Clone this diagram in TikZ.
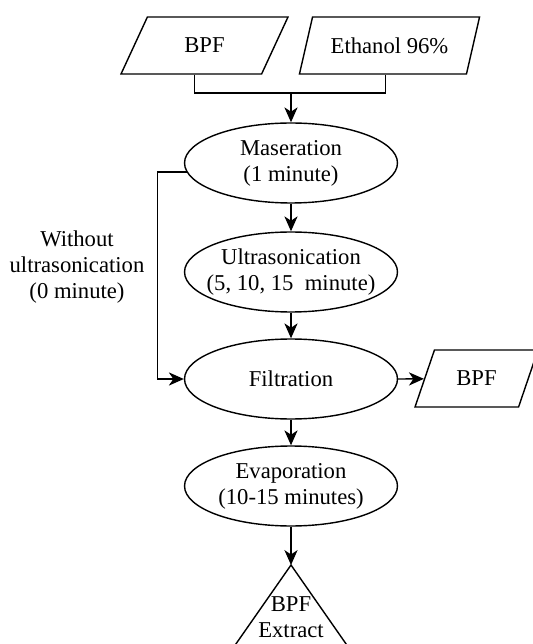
\documentclass[tikz,border=0pt]{standalone}
\usepackage{fontspec}
\setmainfont{Liberation Serif}
\usetikzlibrary{shapes.geometric,arrows.meta,calc}

\begin{document}
\begin{tikzpicture}[
    x=0.02cm, y=-0.02cm,
    every node/.style={font=\fontsize{12.9}{14.8}\selectfont},
    process/.style={ellipse, draw=black, line width=0.8pt, fill=white,
        minimum width=4.26cm, minimum height=1.6cm, inner xsep=-0.5cm,
        inner ysep=0pt, align=center},
    data/.style={trapezium, trapezium left angle=58, trapezium right angle=122,
        trapezium stretches=true, draw=black, line width=0.8pt, fill=white,
        minimum height=1.14cm, inner sep=0pt},
    flow/.style={line width=0.8pt, -{Stealth[length=8.5pt, width=7.5pt, inset=2.5pt]}},
    link/.style={line width=0.8pt}
]
    \useasboundingbox (0,0) rectangle (532,644);
    \node[data, minimum width=3.34cm] (bpfin) at (204.5,45.5) {BPF};
    \node[data, minimum width=3.62cm] (ethanol) at (389.5,45.5) {Ethanol 96\%};
    \coordinate (join) at (291,93);
    \node[process] (maser) at (291,163) {Maseration\\(1 minute)};
    \node[process] (ultra) at (291,272) {Ultrasonication\\(5, 10, 15\ \ minute)};
    \node[process] (filt) at (291,379) {Filtration};
    \node[data, minimum width=2.46cm] (bpfout) at (476.5,378.5) {BPF};
    \node[process] (evap) at (291,486) {Evaporation\\(10-15 minutes)};
    \node[align=center] (wolabel) at (77,267) {Without\\ultrasonication\\(0 minute)};
    \coordinate (apex) at (291,565);
    \node[align=center, inner sep=0pt] (extract) at (291,617) {BPF\\Extract};
    \draw[link] (apex) -- ++(-60,86) -- ++(120,0) -- cycle;
    \draw[link] ($(bpfin.south)+(-10,0)$) |- (join) -| ($(ethanol.south)+(-4,0)$);
    \draw[flow] (join) -- (maser);
    \draw[flow] (maser) -- (ultra);
    \draw[flow] (ultra) -- (filt);
    \draw[flow] (maser.185) -- ++(-29,0) |- (filt.west);
    \draw[flow] (filt.east) -- (bpfout);
    \draw[flow] (filt) -- (evap);
    \draw[flow] (evap) -- (apex);
\end{tikzpicture}
\end{document}
